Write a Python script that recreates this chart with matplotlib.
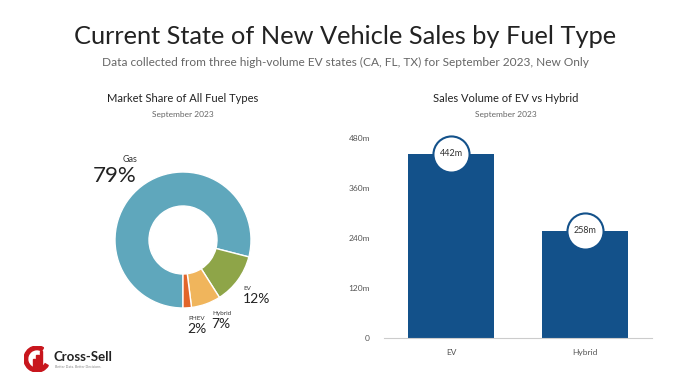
import matplotlib.pyplot as plt
from matplotlib.patches import Wedge, Rectangle

# data
fuel_types = ['Gas', 'EV', 'Hybrid', 'PHEV']
fuel_share = [79, 12, 7, 2]
fuel_colors = ['#5fa7bc', '#8ea548', '#f0b55c', '#e2652a']

bar_labels = ['EV', 'Hybrid']
bar_values = [442, 258]
y_ticks = [0, 120, 240, 360, 480]
y_tick_labels = ['0', '120m', '240m', '360m', '480m']

W, H = 690, 388
fig = plt.figure(figsize=(W / 100, H / 100), dpi=100)
fig.patch.set_facecolor('white')
plt.rcParams['font.family'] = ['Lato', 'DejaVu Sans']


def fx(x):
    return x / W


def fy(y):
    return 1 - y / H


# titles
fig.text(fx(345), fy(36), 'Current State of New Vehicle Sales by Fuel Type',
         ha='center', va='center', fontsize=18.3, color='#222222', fontweight='normal')
fig.text(fx(345), fy(62), 'Data collected from three high-volume EV states (CA, FL, TX) for September 2023, New Only',
         ha='center', va='center', fontsize=8.6, color='#666666')

fig.text(fx(183), fy(98), 'Market Share of All Fuel Types', ha='center', va='center',
         fontsize=8, color='#222222')
fig.text(fx(183), fy(115), 'September 2023', ha='center', va='center', fontsize=6, color='#666666')
fig.text(fx(506), fy(98), 'Sales Volume of EV vs Hybrid', ha='center', va='center',
         fontsize=8, color='#222222')
fig.text(fx(506), fy(115), 'September 2023', ha='center', va='center', fontsize=6, color='#666666')

# donut
cx, cy, r = 183, 240, 68
ax1 = fig.add_axes([fx(cx - r), fy(cy + r), 2 * r / W, 2 * r / H])
ax1.pie(fuel_share, colors=fuel_colors, startangle=-90, counterclock=False,
        wedgeprops=dict(width=0.5, edgecolor='white', linewidth=1))
ax1.set_xlim(-1, 1)
ax1.set_ylim(-1, 1)
ax1.set_aspect('equal')
ax1.axis('off')

# donut labels
fig.text(fx(130), fy(159), 'Gas', ha='center', va='center', fontsize=6.5, color='#333333')
fig.text(fx(93), fy(176), '79%', ha='left', va='center', fontsize=16, color='#222222')
fig.text(fx(243), fy(288), 'EV', ha='left', va='center', fontsize=4.5, color='#333333')
fig.text(fx(243), fy(299), '12%', ha='left', va='center', fontsize=10, color='#222222')
fig.text(fx(212), fy(313), 'Hybrid', ha='left', va='center', fontsize=4.5, color='#333333')
fig.text(fx(211), fy(324), '7%', ha='left', va='center', fontsize=10, color='#222222')
fig.text(fx(188), fy(318), 'PHEV', ha='left', va='center', fontsize=4.5, color='#333333')
fig.text(fx(187), fy(329), '2%', ha='left', va='center', fontsize=10, color='#222222')

# bars
ax2 = fig.add_axes([fx(384), fy(338), 268 / W, 200 / H])
x = range(len(bar_labels))
ax2.bar(x, bar_values, width=0.64, color='#13518a')
ax2.scatter(x, bar_values, s=26 ** 2, color='white', edgecolor='#13518a',
            linewidth=1.5, zorder=3, clip_on=False)
for i, v in zip(x, bar_values):
    ax2.text(i, v, f'{v}m', ha='center', va='center', fontsize=6.5, color='#333333', zorder=4)
ax2.set_xlim(-0.5, 1.5)
ax2.set_ylim(0, 480)
ax2.set_yticks(y_ticks)
ax2.set_yticklabels(y_tick_labels)
ax2.set_xticks(list(x))
ax2.set_xticklabels(bar_labels)
ax2.tick_params(length=0, labelsize=6, labelcolor='#555555', pad=8)
ax2.tick_params(axis='y', pad=10)
for s in ['top', 'right', 'left']:
    ax2.spines[s].set_visible(False)
ax2.spines['bottom'].set_color('#cccccc')

# logo
axl = fig.add_axes([fx(24), fy(372), 26 / W, 26 / H])
axl.set_xlim(0, 1)
axl.set_ylim(0, 1)
axl.set_aspect('equal')
axl.axis('off')
axl.add_patch(Wedge((0.5, 0.5), 0.5, 60, 330, width=0.14, color='#c8161d'))
for bx, bh in zip([0.33, 0.47, 0.61], [0.3, 0.45, 0.6]):
    axl.add_patch(Rectangle((bx, 0.2), 0.1, bh, color='#c8161d'))
fig.text(fx(53), fy(357), 'Cross-Sell', ha='left', va='center', fontsize=9.5,
         fontweight='bold', color='#222222')
fig.text(fx(55), fy(367), 'Better Data. Better Decisions.', ha='left', va='center',
         fontsize=2.5, color='#888888')

fig.savefig('out.png', dpi=100, facecolor='white')
